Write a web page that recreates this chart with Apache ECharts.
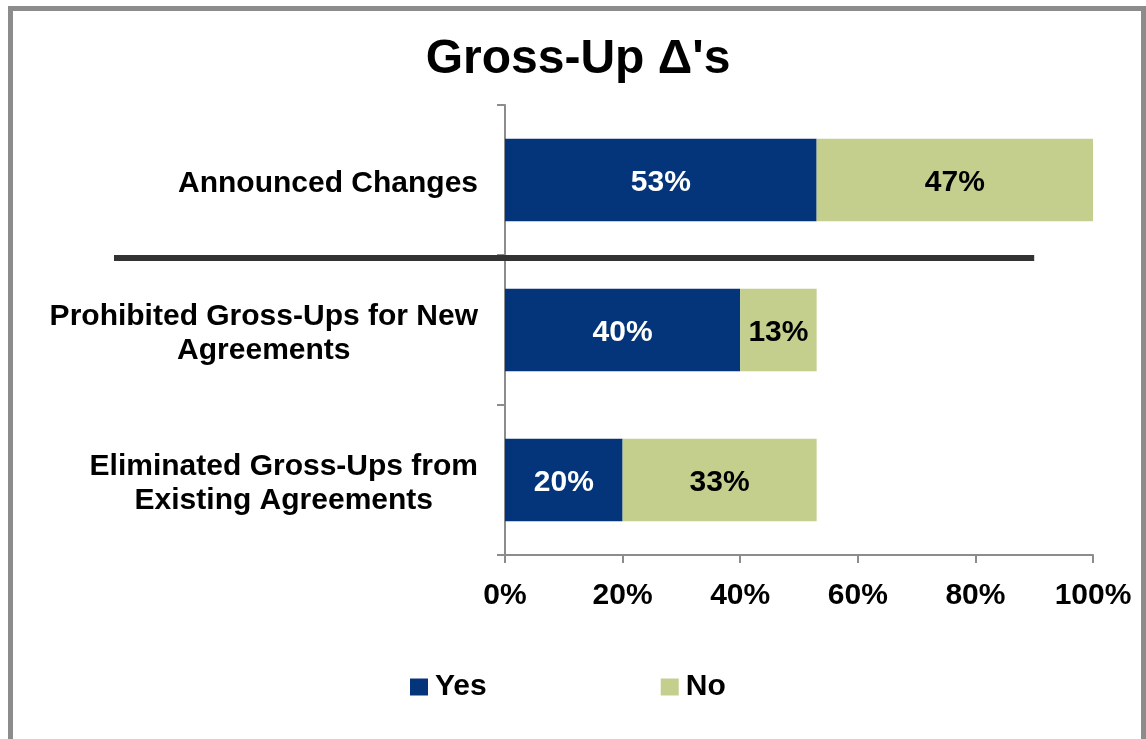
<!DOCTYPE html>
<html>
<head>
<meta charset="utf-8">
<title>Gross-Up Δ's</title>
<script src="https://cdn.jsdelivr.net/npm/echarts@6/dist/echarts.min.js"></script>
<style>
  html, body { margin: 0; padding: 0; background: #ffffff; }
  #chart { width: 1146px; height: 739px; }
</style>
</head>
<body>
<div id="chart"></div>
<script>
// Survey categories (top to bottom) and the share answering Yes / No
const categories = [
  'Announced Changes',
  'Prohibited Gross-Ups for New\nAgreements',
  'Eliminated Gross-Ups from\nExisting Agreements'
];
const yesValues = [53, 40, 20];
const noValues = [47, 13, 33];
const seriesNames = ['Yes', 'No'];

// Horizontal axis: 0% .. 100% in steps of 20
const axisMin = 0;
const axisMax = 100;
const axisStep = 20;
// The divider under the first category runs out to this axis value
const dividerEnd = 90;

const FONT = '"Liberation Sans", Arial, Helvetica, sans-serif';
const NAVY = '#04357a';
const SAGE = '#c4cf8e';
const AXIS_GREY = '#8c8c8c';

const chart = echarts.init(document.getElementById('chart'), null, { renderer: 'canvas' });

const option = {
  backgroundColor: '#ffffff',
  animation: false,
  title: {
    text: "Gross-Up Δ's",
    left: 578,
    textAlign: 'center',
    top: 36,
    padding: 0,
    textStyle: { fontFamily: FONT, fontSize: 48, fontWeight: 'bold', color: '#000000' }
  },
  legend: {
    data: seriesNames,
    left: 410,
    top: 672,
    padding: 0,
    icon: 'rect',
    itemWidth: 18,
    itemHeight: 17,
    itemGap: 174,
    textStyle: { fontFamily: FONT, fontSize: 30, fontWeight: 'bold', color: '#000000', padding: [0, 0, 0, 2] }
  },
  grid: { left: 505, right: 53, top: 105, bottom: 184, containLabel: false },
  xAxis: {
    type: 'value',
    min: axisMin,
    max: axisMax,
    interval: axisStep,
    axisLine: { show: true, lineStyle: { color: AXIS_GREY, width: 2 } },
    axisTick: { show: true, length: 8, lineStyle: { color: AXIS_GREY, width: 2 } },
    splitLine: { show: false },
    axisLabel: {
      margin: 26,
      formatter: v => v + '%',
      fontFamily: FONT, fontSize: 30, fontWeight: 'bold', color: '#000000'
    }
  },
  yAxis: {
    type: 'category',
    data: categories,
    inverse: true,
    axisLine: { show: true, lineStyle: { color: AXIS_GREY, width: 2 } },
    axisTick: { show: true, length: 8, lineStyle: { color: AXIS_GREY, width: 2 } },
    axisLabel: {
      margin: 27,
      align: 'right',
      verticalAlign: 'middle',
      padding: [7, 0, 0, 0],
      formatter: v => v.split('\n').map(line => '{c|' + line + '}').join('\n'),
      rich: {
        c: { align: 'center', fontFamily: FONT, fontSize: 30, fontWeight: 'bold', color: '#000000', lineHeight: 34 }
      }
    }
  },
  series: [
    {
      name: seriesNames[0],
      type: 'bar',
      stack: 'total',
      data: yesValues,
      barWidth: '55%',
      itemStyle: { color: NAVY },
      label: {
        show: true, position: 'inside', offset: [0, 3], formatter: p => p.value + '%',
        fontFamily: FONT, fontSize: 30, fontWeight: 'bold', color: '#ffffff'
      }
    },
    {
      name: seriesNames[1],
      type: 'bar',
      stack: 'total',
      data: noValues,
      barWidth: '55%',
      itemStyle: { color: SAGE },
      label: {
        show: true, position: 'inside', offset: [0, 3], formatter: p => p.value + '%',
        fontFamily: FONT, fontSize: 30, fontWeight: 'bold', color: '#000000'
      }
    }
  ]
};

chart.setOption(option);

// Frame around the figure and the divider between the first and second category
function drawDecorations() {
  const y0 = chart.convertToPixel({ yAxisIndex: 0 }, categories[0]);
  const y1 = chart.convertToPixel({ yAxisIndex: 0 }, categories[1]);
  const dividerY = (y0 + y1) / 2 + 3;
  const dividerRight = chart.convertToPixel({ xAxisIndex: 0 }, dividerEnd);
  chart.setOption({
    graphic: [
      {
        type: 'rect',
        silent: true,
        z: 100,
        shape: { x: 10.5, y: 8.5, width: 1133, height: 800 },
        style: { fill: 'none', stroke: '#8c8c8c', lineWidth: 5 }
      },
      {
        type: 'line',
        silent: true,
        z: 50,
        shape: { x1: 114, y1: dividerY, x2: dividerRight, y2: dividerY },
        style: { stroke: '#333333', lineWidth: 6 }
      }
    ]
  });
}
drawDecorations();
</script>
</body>
</html>
